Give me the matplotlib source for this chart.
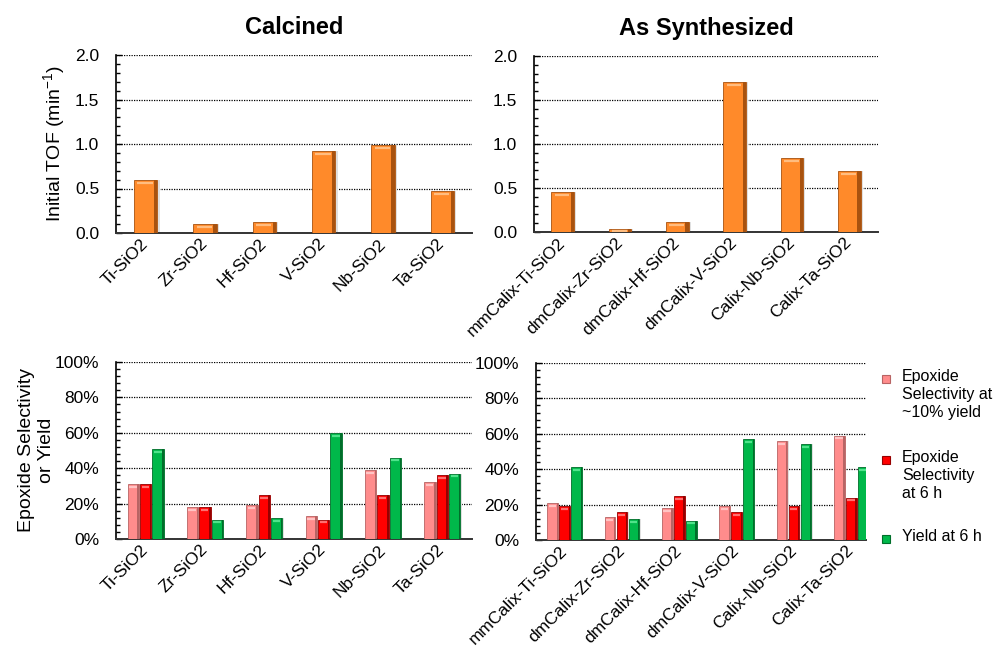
import numpy as np
import matplotlib
matplotlib.use("Agg")
import matplotlib.pyplot as plt
from matplotlib.ticker import MultipleLocator, PercentFormatter
from matplotlib.patches import Rectangle

plt.rcParams['font.family'] = ['Liberation Sans', 'DejaVu Sans']
plt.rcParams['mathtext.fontset'] = 'custom'
plt.rcParams['mathtext.rm'] = 'Liberation Sans'
plt.rcParams['mathtext.default'] = 'regular'

calcined = ['Ti-SiO2', 'Zr-SiO2', 'Hf-SiO2', 'V-SiO2', 'Nb-SiO2', 'Ta-SiO2']
synthesized = ['mmCalix-Ti-SiO2', 'dmCalix-Zr-SiO2', 'dmCalix-Hf-SiO2',
               'dmCalix-V-SiO2', 'Calix-Nb-SiO2', 'Calix-Ta-SiO2']

# initial TOF, min^-1
tof_calc = [0.59, 0.10, 0.12, 0.92, 0.99, 0.47]
tof_synth = [0.45, 0.03, 0.11, 1.70, 0.84, 0.69]

# selectivity / yield, %
sel10_calc = [31, 18, 19, 13, 39, 32]
sel6h_calc = [31, 18, 25, 11, 25, 36]
yield6h_calc = [51, 11, 12, 60, 46, 37]

sel10_synth = [21, 13, 18, 19, 56, 59]
sel6h_synth = [19, 16, 25, 16, 19, 24]
yield6h_synth = [41, 12, 11, 57, 54, 41]

series_names = ['Epoxide\nSelectivity at\n~10% yield',
                'Epoxide\nSelectivity\nat 6 h',
                'Yield at 6 h']

ORANGE = ('#ff8a2a', '#a8520f', '#ffbd80')
PINK = ('#ff8c8c', '#b86464', '#ffc4c4')
RED = ('#ff0000', '#960000', '#ff7070')
GREEN = ('#00b84a', '#006e2a', '#4fe38a')


def bevel_bars(ax, x, heights, width, colors, hl):
    face, dark, light = colors
    heights = np.asarray(heights, dtype=float)
    # soft shadow on the right
    ax.bar(x + width * 0.10, heights, width, color='#e0e0e0', zorder=2)
    ax.bar(x, heights, width, color=face, edgecolor=dark, linewidth=0.6, zorder=3)
    ax.bar(x + width * 0.43, heights, width * 0.14, color=dark, zorder=3.1)
    off = np.minimum(hl, heights / 2)
    ax.hlines(heights - off, x - width * 0.36, x + width * 0.30, color=light,
              lw=1.6, zorder=3.2)


def style_axes(ax, labels, major, minor, xmax):
    for s in ('top', 'right'):
        ax.spines[s].set_visible(False)
    ax.spines['left'].set_linewidth(1.2)
    ax.spines['bottom'].set_linewidth(1.4)
    ax.spines['bottom'].set_color('#333333')
    ax.yaxis.set_major_locator(MultipleLocator(major))
    ax.yaxis.set_minor_locator(MultipleLocator(minor))
    ax.tick_params(axis='y', which='major', direction='in', length=4, width=1,
                   labelsize=12.5, pad=12)
    ax.tick_params(axis='y', which='minor', direction='in', length=3, width=1)
    ax.tick_params(axis='x', length=0, pad=6)
    ax.yaxis.grid(True, which='major', linestyle=(0, (1, 1)), color='black', lw=0.9)
    ax.set_axisbelow(True)
    ax.set_xlim(-0.5, xmax)
    ax.set_xticks(np.arange(len(labels)))
    ax.set_xticklabels(labels, rotation=45, ha='right', va='center',
                       rotation_mode='anchor', fontsize=12.5)


W, H = 999, 649
fig = plt.figure(figsize=(W / 100, H / 100), dpi=100)


def add_ax(x0, x1, y0, y1):
    return fig.add_axes([x0 / W, 1 - y1 / H, (x1 - x0) / W, (y1 - y0) / H])


ax1 = add_ax(116, 472, 55, 233)
ax2 = add_ax(534, 878, 56, 232)
ax3 = add_ax(116, 472, 362, 539)
ax4 = add_ax(536, 866, 363, 540)

x = np.arange(6)

for ax, vals, labels in ((ax1, tof_calc, calcined), (ax2, tof_synth, synthesized)):
    bevel_bars(ax, x, vals, 0.39, ORANGE, 0.03)
    style_axes(ax, labels, 0.5, 0.1, 5.5)
    ax.set_ylim(0, 2.0)
    ax.yaxis.set_major_formatter(lambda v, p: f'{v:.1f}')

# bottom-right panel is cut short by the legend, same category spacing as above
groups = ((ax3, sel10_calc, sel6h_calc, yield6h_calc, calcined, 5.5),
          (ax4, sel10_synth, sel6h_synth, yield6h_synth, synthesized, 5.5 - 14 / 57.3))
bw, step = 0.19, 0.21
for ax, s10, s6, y6, labels, xmax in groups:
    bevel_bars(ax, x - step, s10, bw, PINK, 1.6)
    bevel_bars(ax, x, s6, bw, RED, 1.6)
    bevel_bars(ax, x + step, y6, bw, GREEN, 1.6)
    style_axes(ax, labels, 20, 4, xmax)
    ax.set_ylim(0, 100)
    ax.yaxis.set_major_formatter(PercentFormatter(xmax=100, decimals=0))

ax1.set_title('Calcined', fontsize=17, fontweight='bold', pad=15)
ax2.set_title('As Synthesized', fontsize=17, fontweight='bold', pad=15)

ax1.set_ylabel('Initial TOF (min$^{-1}$)', fontsize=14, labelpad=6)
ax3.set_ylabel('Epoxide Selectivity\nor Yield', fontsize=14, labelpad=0)

# legend: marker beside the first line of each entry
leg_tops = [369, 450, 529]
for (face, dark, _), name, top in zip((PINK, RED, GREEN), series_names, leg_tops):
    fig.patches.append(Rectangle((882 / W, 1 - (top + 14) / H), 8 / W, 8 / H,
                                 transform=fig.transFigure, facecolor=face,
                                 edgecolor=dark, lw=0.8, zorder=5))
    fig.text(902 / W, 1 - top / H, name, fontsize=11.5, va='top', ha='left',
             linespacing=1.25)

fig.savefig('out.png', dpi=100)
